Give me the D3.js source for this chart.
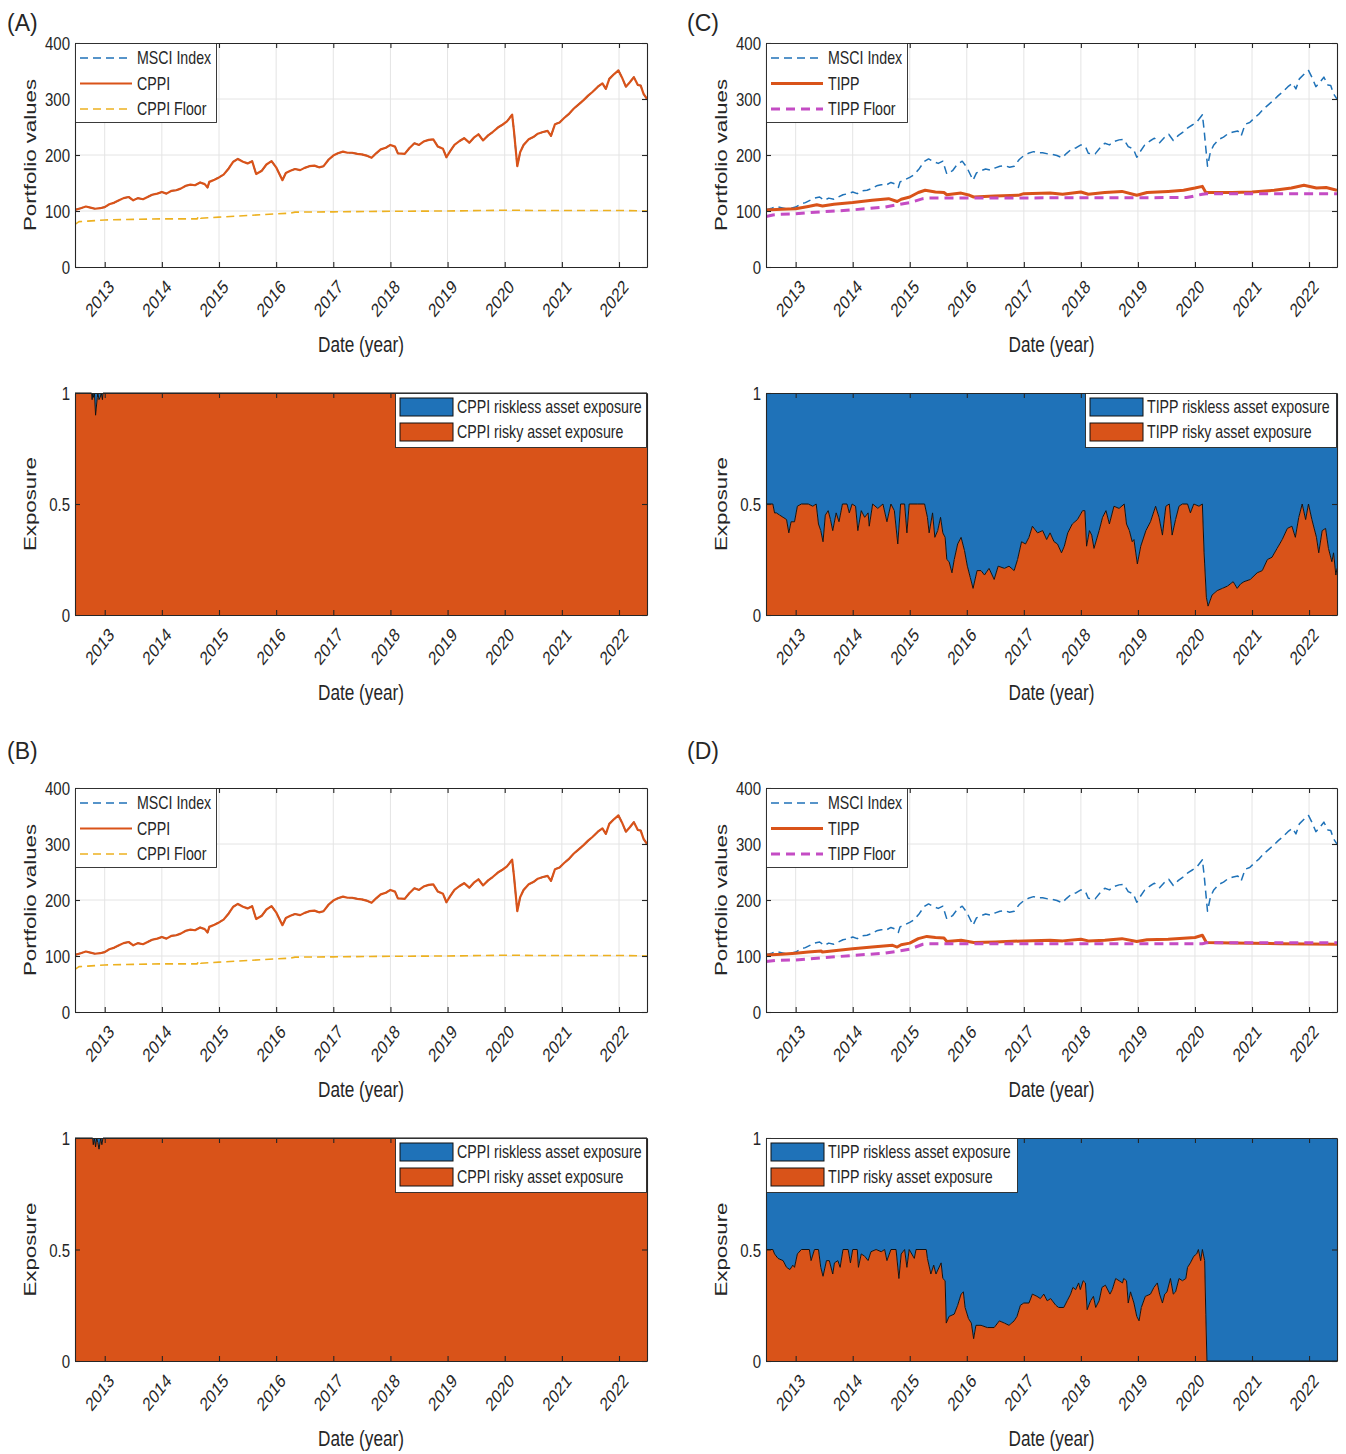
<!DOCTYPE html>
<meta charset="utf-8">
<style>
  body { margin: 0; background: #fff; }
  text { font-family: "Liberation Sans", Arial, Helvetica, sans-serif; fill: #262626; }
</style>
<body></body>
<script src="https://d3js.org/d3.v7.min.js"></script>
<script>
// ---- data (time in decimal years) ----
var yearTicks = [2013, 2014, 2015, 2016, 2017, 2018, 2019, 2020, 2021, 2022];
var valueTicks = [0, 100, 200, 300, 400];
var exposureTicks = [0, 0.5, 1];

// MSCI index (CPPI sits right on top of it, exposure ~1)
var msciT = [2012.48, 2012.58, 2012.67, 2012.75, 2012.83, 2012.92, 2013.00, 2013.08, 2013.17, 2013.25,
  2013.33, 2013.42, 2013.50, 2013.58, 2013.67, 2013.75, 2013.83, 2013.92, 2014.00, 2014.08,
  2014.17, 2014.25, 2014.33, 2014.42, 2014.50, 2014.58, 2014.67, 2014.75, 2014.80, 2014.83,
  2014.92, 2015.00, 2015.08, 2015.17, 2015.25, 2015.33, 2015.42, 2015.50, 2015.58, 2015.65,
  2015.75, 2015.83, 2015.92, 2016.00, 2016.11, 2016.17, 2016.25, 2016.33, 2016.42, 2016.50,
  2016.58, 2016.67, 2016.75, 2016.83, 2016.92, 2017.00, 2017.08, 2017.17, 2017.25, 2017.33,
  2017.42, 2017.50, 2017.58, 2017.67, 2017.75, 2017.83, 2017.92, 2018.00, 2018.08, 2018.13,
  2018.25, 2018.33, 2018.42, 2018.50, 2018.58, 2018.67, 2018.75, 2018.83, 2018.92, 2018.98,
  2019.04, 2019.12, 2019.21, 2019.29, 2019.38, 2019.46, 2019.54, 2019.62, 2019.71, 2019.79,
  2019.88, 2019.96, 2020.04, 2020.13, 2020.16, 2020.22, 2020.27, 2020.33, 2020.42, 2020.50,
  2020.58, 2020.67, 2020.75, 2020.81, 2020.88, 2020.96, 2021.04, 2021.13, 2021.21, 2021.29,
  2021.38, 2021.46, 2021.54, 2021.63, 2021.71, 2021.77, 2021.83, 2021.92, 2021.99, 2022.05,
  2022.12, 2022.19, 2022.26, 2022.33, 2022.38, 2022.43, 2022.49];
var msciV = [102, 105, 108, 106, 104, 105, 107, 112, 115, 119,
  123, 125, 119, 123, 121, 125, 129, 131, 134, 131,
  136, 137, 140, 145, 147, 146, 151, 148, 142, 152,
  156, 160, 165, 176, 188, 193, 188, 185, 189, 166,
  172, 183, 189, 178, 155, 168, 172, 175, 173, 177,
  180, 181, 178, 180, 192, 199, 203, 206, 204, 204,
  202, 201, 199, 195, 203, 210, 213, 218, 215, 203,
  202, 212, 221, 218, 224, 227, 228, 215, 211, 196,
  206, 218, 225, 230, 222, 231, 237, 226, 235, 241,
  249, 254, 260, 272, 245, 180, 205, 218, 228, 232,
  238, 241, 243, 234, 255, 258, 266, 274, 283, 290,
  298, 306, 313, 322, 328, 318, 336, 345, 351, 339,
  322, 330, 339, 325, 324, 309, 300];

// CPPI portfolio: same path as the index in panels A and B
var cppiT = msciT;
var cppiV = msciV;

var cppiFloorT = [2012.48, 2012.55, 2012.70, 2013.00, 2013.50, 2014.00, 2014.50, 2014.62, 2014.64, 2014.68,
  2015.00, 2015.50, 2016.00, 2016.25, 2016.33, 2017.00, 2018.00, 2019.00, 2020.10, 2020.50, 2021.00, 2022.00, 2022.49];
var cppiFloorV = [76, 81, 82, 84, 85, 86, 86, 86, 92, 87,
  89, 92, 95, 96, 98, 98.5, 99.5, 100, 101.5, 101, 101, 101, 100];

// TIPP, panel C
var tippCT = [2012.48, 2012.75, 2013.00, 2013.22, 2013.37, 2013.47, 2013.67, 2014.00, 2014.34, 2014.63,
  2014.78, 2014.85, 2015.00, 2015.15, 2015.27, 2015.45, 2015.60, 2015.65, 2015.90, 2016.05,
  2016.12, 2016.49, 2016.90, 2017.00, 2017.46, 2017.68, 2018.00, 2018.13, 2018.42, 2018.72,
  2018.98, 2019.16, 2019.53, 2019.80, 2020.00, 2020.13, 2020.19, 2020.65, 2021.00, 2021.39,
  2021.69, 2021.91, 2022.13, 2022.30, 2022.49];
var tippCV = [102, 103, 104, 108, 111, 109, 112, 115, 119, 122,
  117, 121, 125, 133, 137, 134, 133, 129, 132, 128,
  125, 127, 128, 131, 132, 130, 134, 130, 133, 135,
  128, 133, 135, 137, 141, 144, 133, 133, 134, 137,
  141, 146, 141, 142, 137];
var tippFloorCT = [2012.48, 2012.60, 2012.70, 2013.00, 2013.22, 2014.00, 2014.56, 2015.00, 2015.23, 2015.30,
  2019.85, 2019.95, 2020.13, 2020.20, 2022.49];
var tippFloorCV = [90, 93, 94, 95, 97, 102, 107, 115, 122, 123,
  124, 126, 130, 131, 131];

// TIPP, panel D
var tippDT = [2012.48, 2012.75, 2013.00, 2013.22, 2013.45, 2013.47, 2014.00, 2014.34, 2014.70, 2014.78,
  2014.85, 2015.00, 2015.15, 2015.30, 2015.45, 2015.60, 2015.65, 2015.90, 2016.12, 2016.50,
  2017.00, 2017.46, 2017.68, 2018.00, 2018.13, 2018.42, 2018.72, 2018.98, 2019.16, 2019.53,
  2020.00, 2020.13, 2020.20, 2020.65, 2021.50, 2022.49];
var tippDV = [102, 103, 105, 107, 109, 107, 113, 116, 119, 116,
  120, 123, 131, 135, 133, 132, 126, 128, 124, 125,
  127, 128, 127, 130, 127, 128, 131, 126, 129, 130,
  133, 137, 124, 123, 122, 121];
var tippFloorDT = [2012.48, 2012.65, 2013.00, 2014.00, 2014.56, 2015.00, 2015.23, 2015.30, 2020.13, 2020.20, 2022.49];
var tippFloorDV = [90, 92, 93, 101, 105, 112, 121, 122, 122, 123.5, 123.5];

// risky asset exposure (riskless = 1 - risky)
var cppiExpAT = [2012.48, 2012.77, 2012.78, 2012.79, 2012.80, 2012.82, 2012.83, 2012.84, 2012.87, 2012.88,
  2012.90, 2012.92, 2012.94, 2012.96, 2012.97, 2022.49];
var cppiExpAV = [1, 1, 0.97, 1, 0.98, 1, 0.95, 0.90, 0.98, 1,
  0.97, 0.98, 1, 0.97, 1, 1];
var cppiExpBT = [2012.48, 2012.79, 2012.80, 2012.82, 2012.84, 2012.86, 2012.88, 2012.90, 2012.93, 2012.95, 2012.97, 2022.49];
var cppiExpBV = [1, 1, 0.97, 1, 0.96, 1, 0.98, 0.95, 1, 0.97, 1, 1];

var tippExpCT = [2012.48, 2012.60, 2012.63, 2012.66, 2012.72, 2012.78, 2012.84, 2012.88, 2012.92, 2012.98,
  2013.03, 2013.10, 2013.22, 2013.30, 2013.36, 2013.40, 2013.44, 2013.48, 2013.52, 2013.57,
  2013.61, 2013.65, 2013.71, 2013.76, 2013.82, 2013.90, 2013.94, 2013.99, 2014.05, 2014.09,
  2014.15, 2014.21, 2014.27, 2014.29, 2014.35, 2014.44, 2014.53, 2014.60, 2014.67, 2014.73,
  2014.79, 2014.84, 2014.91, 2014.95, 2014.99, 2015.14, 2015.26, 2015.31, 2015.34, 2015.40,
  2015.44, 2015.49, 2015.54, 2015.58, 2015.62, 2015.65, 2015.69, 2015.74, 2015.78, 2015.84,
  2015.90, 2015.96, 2016.01, 2016.06, 2016.11, 2016.18, 2016.25, 2016.31, 2016.39, 2016.48,
  2016.55, 2016.66, 2016.74, 2016.83, 2016.89, 2016.96, 2017.03, 2017.09, 2017.15, 2017.24,
  2017.33, 2017.40, 2017.46, 2017.53, 2017.59, 2017.66, 2017.71, 2017.77, 2017.85, 2017.94,
  2018.03, 2018.07, 2018.10, 2018.15, 2018.19, 2018.23, 2018.32, 2018.38, 2018.44, 2018.50,
  2018.58, 2018.67, 2018.76, 2018.80, 2018.85, 2018.90, 2018.93, 2018.99, 2019.05, 2019.14,
  2019.22, 2019.31, 2019.37, 2019.43, 2019.49, 2019.55, 2019.60, 2019.66, 2019.72, 2019.78,
  2019.87, 2019.92, 2019.98, 2020.07, 2020.13, 2020.16, 2020.17, 2020.20, 2020.23, 2020.30,
  2020.39, 2020.48, 2020.57, 2020.67, 2020.74, 2020.80, 2020.86, 2020.97, 2021.09, 2021.18,
  2021.27, 2021.35, 2021.44, 2021.53, 2021.62, 2021.70, 2021.76, 2021.82, 2021.88, 2021.94,
  2021.99, 2022.05, 2022.13, 2022.17, 2022.23, 2022.29, 2022.34, 2022.40, 2022.43, 2022.47, 2022.49];
var tippExpCV = [0.50, 0.50, 0.46, 0.46, 0.45, 0.44, 0.43, 0.37, 0.42, 0.42,
  0.49, 0.50, 0.50, 0.49, 0.50, 0.41, 0.38, 0.33, 0.45, 0.47,
  0.43, 0.38, 0.46, 0.42, 0.50, 0.50, 0.46, 0.50, 0.49, 0.38,
  0.47, 0.44, 0.46, 0.40, 0.50, 0.48, 0.50, 0.42, 0.50, 0.47,
  0.32, 0.50, 0.50, 0.37, 0.50, 0.50, 0.50, 0.44, 0.37, 0.46,
  0.35, 0.38, 0.44, 0.37, 0.35, 0.25, 0.24, 0.19, 0.25, 0.32,
  0.35, 0.29, 0.22, 0.17, 0.12, 0.20, 0.20, 0.18, 0.21, 0.16,
  0.22, 0.21, 0.22, 0.20, 0.25, 0.33, 0.32, 0.35, 0.40, 0.37,
  0.38, 0.34, 0.37, 0.33, 0.32, 0.28, 0.31, 0.37, 0.41, 0.43,
  0.47, 0.47, 0.31, 0.38, 0.36, 0.30, 0.38, 0.44, 0.47, 0.41,
  0.49, 0.48, 0.50, 0.41, 0.38, 0.33, 0.34, 0.23, 0.31, 0.38,
  0.42, 0.49, 0.44, 0.36, 0.49, 0.50, 0.36, 0.43, 0.49, 0.50,
  0.50, 0.46, 0.50, 0.49, 0.50, 0.28, 0.23, 0.08, 0.04, 0.09,
  0.11, 0.12, 0.13, 0.15, 0.12, 0.14, 0.15, 0.16, 0.19, 0.20,
  0.25, 0.26, 0.30, 0.34, 0.39, 0.40, 0.35, 0.44, 0.50, 0.43,
  0.50, 0.43, 0.35, 0.28, 0.38, 0.39, 0.30, 0.24, 0.28, 0.18, 0.21];

var tippExpDT = [2012.48, 2012.60, 2012.63, 2012.69, 2012.78, 2012.84, 2012.90, 2012.95, 2012.98, 2013.03,
  2013.10, 2013.24, 2013.27, 2013.33, 2013.40, 2013.44, 2013.48, 2013.54, 2013.59, 2013.65,
  2013.68, 2013.74, 2013.78, 2013.83, 2013.92, 2013.96, 2014.00, 2014.08, 2014.10, 2014.15,
  2014.21, 2014.27, 2014.32, 2014.41, 2014.50, 2014.56, 2014.60, 2014.67, 2014.76, 2014.81,
  2014.85, 2014.91, 2014.95, 2014.99, 2015.08, 2015.11, 2015.29, 2015.31, 2015.37, 2015.42,
  2015.46, 2015.55, 2015.58, 2015.62, 2015.64, 2015.69, 2015.78, 2015.84, 2015.90, 2015.94,
  2015.97, 2016.03, 2016.08, 2016.12, 2016.16, 2016.25, 2016.36, 2016.48, 2016.57, 2016.66,
  2016.74, 2016.83, 2016.88, 2016.94, 2017.00, 2017.09, 2017.15, 2017.23, 2017.29, 2017.35,
  2017.41, 2017.47, 2017.56, 2017.61, 2017.70, 2017.76, 2017.82, 2017.86, 2017.91, 2017.96,
  2017.99, 2018.04, 2018.08, 2018.11, 2018.17, 2018.22, 2018.26, 2018.32, 2018.37, 2018.43,
  2018.51, 2018.55, 2018.61, 2018.67, 2018.73, 2018.75, 2018.80, 2018.83, 2018.87, 2018.93,
  2018.98, 2019.02, 2019.06, 2019.13, 2019.22, 2019.28, 2019.34, 2019.38, 2019.43, 2019.47,
  2019.51, 2019.57, 2019.62, 2019.66, 2019.72, 2019.78, 2019.84, 2019.87, 2019.92, 2019.98,
  2020.03, 2020.06, 2020.10, 2020.13, 2020.17, 2020.19, 2020.21, 2022.49];
var tippExpDV = [0.50, 0.50, 0.48, 0.46, 0.45, 0.42, 0.41, 0.43, 0.42, 0.48,
  0.50, 0.50, 0.45, 0.50, 0.50, 0.42, 0.38, 0.45, 0.45, 0.39,
  0.44, 0.45, 0.42, 0.50, 0.50, 0.44, 0.50, 0.50, 0.42, 0.48,
  0.47, 0.45, 0.49, 0.50, 0.49, 0.50, 0.45, 0.50, 0.50, 0.37,
  0.48, 0.50, 0.42, 0.50, 0.46, 0.50, 0.50, 0.46, 0.39, 0.43,
  0.39, 0.44, 0.37, 0.36, 0.17, 0.20, 0.21, 0.25, 0.30, 0.31,
  0.24, 0.19, 0.17, 0.10, 0.16, 0.16, 0.15, 0.15, 0.18, 0.17,
  0.16, 0.18, 0.20, 0.25, 0.26, 0.26, 0.30, 0.29, 0.28, 0.30,
  0.27, 0.28, 0.25, 0.24, 0.24, 0.27, 0.30, 0.33, 0.32, 0.35,
  0.32, 0.36, 0.35, 0.23, 0.27, 0.29, 0.24, 0.27, 0.33, 0.34,
  0.30, 0.32, 0.37, 0.36, 0.35, 0.37, 0.36, 0.26, 0.31, 0.26,
  0.20, 0.18, 0.24, 0.29, 0.30, 0.33, 0.35, 0.30, 0.26, 0.30,
  0.31, 0.37, 0.30, 0.31, 0.37, 0.36, 0.37, 0.42, 0.44, 0.47,
  0.48, 0.50, 0.45, 0.50, 0.45, 0.21, 0, 0];

// ---- drawing ----
var SY = 1.28; // the figure is stretched vertically
var AX = "#262626";
var BLUE = "#1f72b8", ORANGE = "#d95319", YELLOW = "#edb120", MAGENTA = "#c44cc4";
var xDomain = [2012.48, 2022.49];

var svg = d3.select("body").append("svg").attr("width", 1346).attr("height", 1454);
var defs = svg.append("defs");
var clipId = 0;

function stretched(parent, x, y, str, size, anchor, rot) {
  return parent.append("text")
    .attr("transform", "translate(" + x + "," + y + ") scale(1," + SY + ")" + (rot ? " rotate(" + rot + ")" : ""))
    .attr("font-size", size)
    .attr("text-anchor", anchor)
    .text(str);
}

function frame(g, x, y, box, ticks, fmt, ylabel) {
  var bottom = g.append("g").attr("transform", "translate(0," + box.y1 + ")")
    .call(d3.axisBottom(x).tickValues(yearTicks).tickFormat(d3.format("d")).tickSizeInner(-5).tickSizeOuter(0));
  bottom.selectAll("text").attr("x", null).attr("y", null).attr("dy", null)
    .attr("text-anchor", "end")
    .attr("transform", "translate(10,21) scale(1," + SY + ") rotate(-45)");
  g.append("g").attr("transform", "translate(0," + box.y0 + ")")
    .call(d3.axisTop(x).tickValues(yearTicks).tickFormat("").tickSizeInner(-5).tickSizeOuter(0));
  var left = g.append("g").attr("transform", "translate(" + box.x0 + ",0)")
    .call(d3.axisLeft(y).tickValues(ticks).tickFormat(fmt).tickSizeInner(-5).tickSizeOuter(0));
  left.selectAll("text").attr("x", null).attr("dy", null)
    .attr("transform", "translate(-5,0) scale(1," + SY + ")").attr("dy", "0.35em");
  g.append("g").attr("transform", "translate(" + box.x1 + ",0)")
    .call(d3.axisRight(y).tickValues(ticks).tickFormat("").tickSizeInner(-5).tickSizeOuter(0));
  g.selectAll(".domain, .tick line").attr("stroke", AX).attr("stroke-width", 1.1);
  g.selectAll(".tick text").attr("fill", AX).attr("font-size", 15)
    .attr("font-family", '"Liberation Sans", Arial, sans-serif');

  stretched(g, (box.x0 + box.x1) / 2, box.y1 + 85, "Date (year)", 17.2, "middle");
  stretched(g, box.x0 - 39, (box.y0 + box.y1) / 2, ylabel, 17.4, "middle", -90);
}

function valuePanel(box, series, legendW) {
  var g = svg.append("g");
  var x = d3.scaleLinear().domain(xDomain).range([box.x0, box.x1]);
  var y = d3.scaleLinear().domain([0, 400]).range([box.y1, box.y0]);

  g.append("g").selectAll("line").data(yearTicks).enter().append("line")
    .attr("x1", function (d) { return x(d); }).attr("x2", function (d) { return x(d); })
    .attr("y1", box.y0).attr("y2", box.y1)
    .attr("stroke", "#e4e4e4");
  g.append("g").selectAll("line").data([100, 200, 300]).enter().append("line")
    .attr("y1", function (d) { return y(d); }).attr("y2", function (d) { return y(d); })
    .attr("x1", box.x0).attr("x2", box.x1)
    .attr("stroke", "#e4e4e4");

  var id = "clip" + (clipId++);
  defs.append("clipPath").attr("id", id).append("rect")
    .attr("x", box.x0).attr("y", box.y0).attr("width", box.x1 - box.x0).attr("height", box.y1 - box.y0);

  var line = d3.line().x(function (d) { return x(d[0]); }).y(function (d) { return y(d[1]); });
  series.forEach(function (s) {
    g.append("path").datum(d3.zip(s.t, s.v))
      .attr("clip-path", "url(#" + id + ")")
      .attr("d", line)
      .attr("fill", "none")
      .attr("stroke", s.color)
      .attr("stroke-width", s.width)
      .attr("stroke-dasharray", s.dash || null)
      .attr("stroke-linejoin", "round");
  });

  frame(g, x, y, box, valueTicks, d3.format("d"), "Portfolio values");

  // legend
  var lg = g.append("g");
  lg.append("rect").attr("x", box.x0 + 0.5).attr("y", box.y0 + 0.5).attr("width", legendW).attr("height", 79)
    .attr("fill", "#fff").attr("stroke", AX).attr("stroke-width", 0.9);
  series.forEach(function (s, i) {
    var cy = box.y0 + 15 + i * 25.5;
    lg.append("line").attr("x1", box.x0 + 5).attr("x2", box.x0 + 57).attr("y1", cy).attr("y2", cy)
      .attr("stroke", s.color).attr("stroke-width", s.width).attr("stroke-dasharray", s.dash || null);
    stretched(lg, box.x0 + 62, cy, s.name, 14.2, "start").attr("dy", "0.35em");
  });
}

function exposurePanel(box, t, v, names, legendLeft) {
  var g = svg.append("g");
  var x = d3.scaleLinear().domain(xDomain).range([box.x0, box.x1]);
  var y = d3.scaleLinear().domain([0, 1]).range([box.y1, box.y0]);
  var pts = d3.zip(t, v);

  g.append("path").datum(pts)
    .attr("d", d3.area().x(function (d) { return x(d[0]); }).y0(function (d) { return y(d[1]); }).y1(y(1)))
    .attr("fill", BLUE);
  g.append("path").datum(pts)
    .attr("d", d3.area().x(function (d) { return x(d[0]); }).y0(y(0)).y1(function (d) { return y(d[1]); }))
    .attr("fill", ORANGE);
  g.append("path").datum(pts)
    .attr("d", d3.line().x(function (d) { return x(d[0]); }).y(function (d) { return y(d[1]); }))
    .attr("fill", "none").attr("stroke", "#111").attr("stroke-width", 1);

  frame(g, x, y, box, exposureTicks, d3.format("~g"), "Exposure");

  var w = 252, lx = legendLeft ? box.x0 : box.x1 - w;
  var lg = g.append("g");
  lg.append("rect").attr("x", lx + 0.5).attr("y", box.y0 + 0.5).attr("width", w - 1).attr("height", 54)
    .attr("fill", "#fff").attr("stroke", AX).attr("stroke-width", 0.9);
  [BLUE, ORANGE].forEach(function (c, i) {
    var top = box.y0 + 5 + i * 25;
    lg.append("rect").attr("x", lx + 5).attr("y", top).attr("width", 53).attr("height", 18)
      .attr("fill", c).attr("stroke", "#111").attr("stroke-width", 1);
    stretched(lg, lx + 62, top + 9, names[i], 14.2, "start").attr("dy", "0.35em");
  });
}

var L = {x0: 75, x1: 647}, R = {x0: 766, x1: 1337};
function box(c, y0, y1) { return {x0: c.x0, x1: c.x1, y0: y0, y1: y1}; }

var cppiSeries = [
  {name: "MSCI Index", t: msciT, v: msciV, color: BLUE, width: 1.5, dash: "8,5"},
  {name: "CPPI", t: cppiT, v: cppiV, color: ORANGE, width: 2.2},
  {name: "CPPI Floor", t: cppiFloorT, v: cppiFloorV, color: YELLOW, width: 1.6, dash: "8,5"}
];
var tippCSeries = [
  {name: "MSCI Index", t: msciT, v: msciV, color: BLUE, width: 1.5, dash: "8,5"},
  {name: "TIPP", t: tippCT, v: tippCV, color: ORANGE, width: 3},
  {name: "TIPP Floor", t: tippFloorCT, v: tippFloorCV, color: MAGENTA, width: 3, dash: "9,6"}
];
var tippDSeries = [
  {name: "MSCI Index", t: msciT, v: msciV, color: BLUE, width: 1.5, dash: "8,5"},
  {name: "TIPP", t: tippDT, v: tippDV, color: ORANGE, width: 3},
  {name: "TIPP Floor", t: tippFloorDT, v: tippFloorDV, color: MAGENTA, width: 3, dash: "9,6"}
];

valuePanel(box(L, 43, 267), cppiSeries, 141);
exposurePanel(box(L, 393, 615), cppiExpAT, cppiExpAV, ["CPPI riskless asset exposure", "CPPI risky asset exposure"], false);
valuePanel(box(L, 788, 1012), cppiSeries, 141);
exposurePanel(box(L, 1138, 1361), cppiExpBT, cppiExpBV, ["CPPI riskless asset exposure", "CPPI risky asset exposure"], false);

valuePanel(box(R, 43, 267), tippCSeries, 141);
exposurePanel(box(R, 393, 615), tippExpCT, tippExpCV, ["TIPP riskless asset exposure", "TIPP risky asset exposure"], false);
valuePanel(box(R, 788, 1012), tippDSeries, 141);
exposurePanel(box(R, 1138, 1361), tippExpDT, tippExpDV, ["TIPP riskless asset exposure", "TIPP risky asset exposure"], true);

// panel letters
[["(A)", 7, 31], ["(C)", 687, 31], ["(B)", 7, 759], ["(D)", 687, 759]].forEach(function (p) {
  svg.append("text").attr("x", p[1]).attr("y", p[2]).attr("font-size", 23).attr("fill", "#111").text(p[0]);
});
</script>
